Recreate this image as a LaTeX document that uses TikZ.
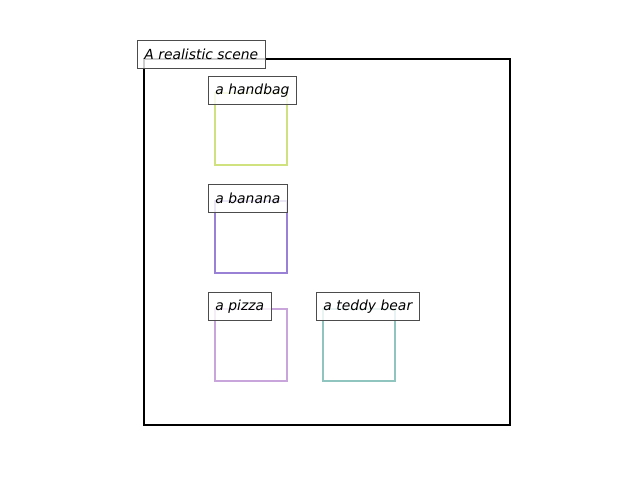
\documentclass[tikz,border=0pt]{standalone}
\usepackage{fontspec}
\setmainfont{DejaVu Sans}
\definecolor{bagc}{RGB}{208,226,128}
\definecolor{bananac}{RGB}{153,130,214}
\definecolor{pizzac}{RGB}{200,166,220}
\definecolor{bearc}{RGB}{144,196,190}
\begin{document}
\begin{tikzpicture}[x=0.72pt, y=-0.72pt, every node/.style={font=\itshape},
    objbox/.style={line width=1.44pt, inner sep=0pt, outer sep=0pt, minimum size=51.84pt, anchor=north west},
    tag/.style={draw=black!70, line width=0.72pt, fill=white, fill opacity=0.8, text opacity=1,
        inner xsep=5pt, inner ysep=0pt, minimum height=20.16pt, anchor=north west}]
    \useasboundingbox (0,0) rectangle (640,480);
    \node[objbox, draw=black, minimum size=263.52pt] (scene) at (144,59) {};
    \node[tag] (lscene) at ([shift={(-7,-19)}]scene.north west) {A realistic scene};
    \foreach \name/\x/\y/\txt/\col in {bag/215/93/a handbag/bagc, banana/215/201/a banana/bananac,
        pizza/215/309/a pizza/pizzac, bear/323/309/a teddy bear/bearc} {
        \node[objbox, draw=\col] (\name) at (\x,\y) {};
        \node[tag] (l\name) at ([shift={(-7,-17)}]\name.north west) {\txt};
    }
\end{tikzpicture}
\end{document}
